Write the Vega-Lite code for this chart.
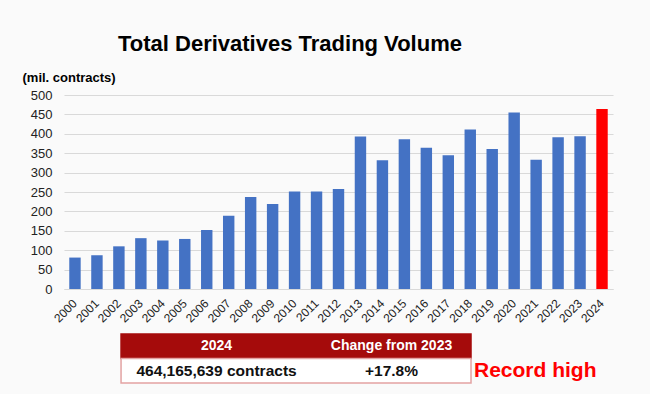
{
  "$schema": "https://vega.github.io/schema/vega-lite/v6.json",
  "background": "#fafafa",
  "padding": {"left": 22, "top": 33, "right": 10, "bottom": 20},
  "title": {"text": "Total Derivatives Trading Volume", "fontSize": 22, "fontWeight": "bold", "color": "#000000", "anchor": "start", "dx": 96, "offset": 15},
  "datasets": {
    "volume": [
      {"year": "2000", "volume": 81},
      {"year": "2001", "volume": 87},
      {"year": "2002", "volume": 110},
      {"year": "2003", "volume": 131},
      {"year": "2004", "volume": 125},
      {"year": "2005", "volume": 129},
      {"year": "2006", "volume": 152},
      {"year": "2007", "volume": 189},
      {"year": "2008", "volume": 237},
      {"year": "2009", "volume": 219},
      {"year": "2010", "volume": 251},
      {"year": "2011", "volume": 251},
      {"year": "2012", "volume": 258},
      {"year": "2013", "volume": 393},
      {"year": "2014", "volume": 332},
      {"year": "2015", "volume": 386},
      {"year": "2016", "volume": 364},
      {"year": "2017", "volume": 345},
      {"year": "2018", "volume": 411},
      {"year": "2019", "volume": 361},
      {"year": "2020", "volume": 455},
      {"year": "2021", "volume": 333},
      {"year": "2022", "volume": 391},
      {"year": "2023", "volume": 394},
      {"year": "2024", "volume": 464.17}
    ],
    "boxes": [
      {"row": "header", "from": "2024", "to": "note"},
      {"row": "body", "from": "2024", "to": "note"}
    ],
    "cells": [
      {"row": "header", "col": "2024", "label": "2024"},
      {"row": "header", "col": "Change from 2023", "label": "Change from 2023"},
      {"row": "body", "col": "2024", "label": "464,165,639 contracts"},
      {"row": "body", "col": "Change from 2023", "label": "+17.8%"},
      {"row": "body", "col": "note", "label": "Record high"}
    ]
  },
  "spacing": 45,
  "bounds": "flush",
  "vconcat": [
    {
      "width": 549,
      "height": 194,
      "data": {"name": "volume"},
      "mark": {"type": "bar"},
      "encoding": {
        "x": {
          "field": "year", "type": "ordinal",
          "scale": {"paddingInner": 0.48, "paddingOuter": 0.24},
          "axis": {"title": null, "labelAngle": -45, "labelAlign": "right", "labelBaseline": "middle", "labelFontSize": 12, "labelColor": "#222222", "ticks": false, "labelPadding": 12, "domainColor": "#d9d9d9", "grid": false}
        },
        "y": {
          "field": "volume", "type": "quantitative",
          "scale": {"domain": [0, 500]},
          "axis": {
            "values": [0, 50, 100, 150, 200, 250, 300, 350, 400, 450, 500],
            "title": "(mil. contracts)", "titleAngle": 0, "titleAlign": "left", "titleBaseline": "middle",
            "titleX": -42, "titleY": -18, "titleFontSize": 13, "titleFontWeight": "bold", "titleColor": "#000000",
            "labelFontSize": 13, "labelColor": "#222222", "labelPadding": 12, "ticks": false, "domain": false,
            "gridColor": "#d9d9d9"
          }
        },
        "color": {"condition": {"test": "datum.year === '2024'", "value": "#ff0000"}, "value": "#4472c4"}
      }
    },
    {
      "width": 582,
      "height": 49,
      "encoding": {
        "y": {"field": "row", "type": "nominal", "scale": {"domain": ["header", "body"], "paddingInner": 0, "paddingOuter": 0}, "axis": null}
      },
      "layer": [
        {
          "data": {"name": "boxes"},
          "mark": {"type": "rect", "strokeWidth": 1.5},
          "encoding": {
            "x": {"field": "from", "type": "nominal", "bandPosition": 0, "scale": {"domain": ["2024", "Change from 2023", "note"], "paddingInner": 0, "paddingOuter": 0.163, "align": 1}, "axis": null},
            "x2": {"field": "to", "bandPosition": 0},
            "fill": {"condition": {"test": "datum.row === 'header'", "value": "#a50b0b"}, "value": "#ffffff"},
            "stroke": {"condition": {"test": "datum.row === 'header'", "value": "#a50b0b"}, "value": "#e3a3a3"}
          }
        },
        {
          "data": {"name": "cells"},
          "transform": [{"filter": "datum.row === 'header'"}],
          "mark": {"type": "text", "fontSize": 14, "fontWeight": "bold", "color": "#ffffff", "dx": 8},
          "encoding": {
            "x": {"field": "col", "type": "nominal"},
            "text": {"field": "label"}
          }
        },
        {
          "data": {"name": "cells"},
          "transform": [{"filter": "datum.row === 'body' && datum.col !== 'note'"}],
          "mark": {"type": "text", "fontSize": 15.5, "fontWeight": "bold", "color": "#111111", "dx": 8},
          "encoding": {
            "x": {"field": "col", "type": "nominal"},
            "text": {"field": "label"}
          }
        },
        {
          "data": {"name": "cells"},
          "transform": [{"filter": "datum.col === 'note'"}],
          "mark": {"type": "text", "fontSize": 21, "fontWeight": "bold", "color": "#ff0000", "align": "left", "dx": 3},
          "encoding": {
            "x": {"field": "col", "type": "nominal", "bandPosition": 0},
            "text": {"field": "label"}
          }
        }
      ]
    }
  ],
  "config": {
    "font": "Liberation Sans",
    "view": {"stroke": null}
  }
}
